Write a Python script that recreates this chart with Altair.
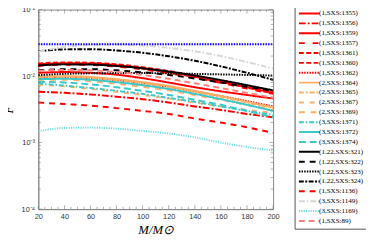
import altair as alt
import pandas as pd

M = [20, 40, 60, 80, 100, 120, 140, 160, 180, 200]

names = ["(1,SXS:1355)", "(1,SXS:1356)", "(1,SXS:1359)", "(1,SXS:1357)", "(1,SXS:1361)",
         "(1,SXS:1360)", "(1,SXS:1362)", "(2,SXS:1364)", "(2,SXS:1365)", "(2,SXS:1367)",
         "(2,SXS:1369)", "(3,SXS:1371)", "(3,SXS:1372)", "(3,SXS:1374)", "(1.22,SXS:321)",
         "(1.22,SXS:322)", "(1.22,SXS:323)", "(1.22,SXS:324)", "(1,SXS:1136)", "(3,SXS:1149)",
         "(3,SXS:1169)", "(1,SXS:89)"]

s1355 = [0.0112, 0.0115, 0.0112, 0.0105, 0.0093, 0.0080, 0.0068, 0.0059, 0.0052, 0.0046]
s1356 = [0.0058, 0.0056, 0.0053, 0.0049, 0.0045, 0.0040, 0.0035, 0.0031, 0.0027, 0.0024]
s1359 = [0.0150, 0.0156, 0.0155, 0.0146, 0.0132, 0.0115, 0.0098, 0.0082, 0.0068, 0.0056]
s1357 = [0.0142, 0.0148, 0.0147, 0.0139, 0.0126, 0.0110, 0.0094, 0.0079, 0.0065, 0.0054]
s1361 = [0.0155, 0.0160, 0.0159, 0.0150, 0.0136, 0.0119, 0.0101, 0.0085, 0.0070, 0.0058]
s1360 = [0.0146, 0.0152, 0.0152, 0.0144, 0.0130, 0.0113, 0.0097, 0.0081, 0.0067, 0.0055]
s1362 = [0.0095, 0.0096, 0.0093, 0.0087, 0.0079, 0.0069, 0.0059, 0.0050, 0.0042, 0.0035]
s1364 = [0.0098, 0.0100, 0.0097, 0.0090, 0.0081, 0.0071, 0.0060, 0.0050, 0.0041, 0.0034]
s1365 = [0.0094, 0.0096, 0.0093, 0.0086, 0.0077, 0.0067, 0.0057, 0.0048, 0.0040, 0.0033]
s1367 = [0.0075, 0.0070, 0.0064, 0.0058, 0.0052, 0.0046, 0.0040, 0.0035, 0.0031, 0.0028]
s1369 = [0.0088, 0.0088, 0.0084, 0.0077, 0.0069, 0.0061, 0.0052, 0.0044, 0.0037, 0.0031]
s1371 = [0.0077, 0.0072, 0.0066, 0.0060, 0.0054, 0.0047, 0.0041, 0.0035, 0.0030, 0.0026]
s1372 = [0.0090, 0.0091, 0.0088, 0.0081, 0.0073, 0.0064, 0.0054, 0.0045, 0.0037, 0.0030]
s1374 = [0.0082, 0.0080, 0.0075, 0.0068, 0.0060, 0.0052, 0.0044, 0.0037, 0.0030, 0.0024]
s321 = [0.0145, 0.0150, 0.0149, 0.0142, 0.0131, 0.0117, 0.0102, 0.0087, 0.0073, 0.0061]
s322 = [0.0122, 0.0127, 0.0127, 0.0122, 0.0114, 0.0104, 0.0092, 0.0080, 0.0069, 0.0060]
s323 = [0.0103, 0.0108, 0.0110, 0.0111, 0.0111, 0.0110, 0.0108, 0.0106, 0.0104, 0.0102]
s324 = [0.0236, 0.0252, 0.0253, 0.0243, 0.0224, 0.0199, 0.0170, 0.0140, 0.0112, 0.0088]
s1136 = [0.0040, 0.0038, 0.0036, 0.0033, 0.0030, 0.0027, 0.0023, 0.0020, 0.0017, 0.0014]
s1149 = [0.0232, 0.0275, 0.0295, 0.0298, 0.0288, 0.0266, 0.0236, 0.0200, 0.0163, 0.0130]
s1169 = [0.00148, 0.00166, 0.00168, 0.00162, 0.00150, 0.00137, 0.00120, 0.00100, 0.00086, 0.00076]
s89 = [0.0120, 0.0124, 0.0122, 0.0115, 0.0104, 0.0091, 0.0078, 0.0066, 0.0056, 0.0047]

blue_level = [0.0302, 0.0302]
blue_M = [20, 200]

series_values = [s1355, s1356, s1359, s1357, s1361, s1360, s1362, s1364, s1365, s1367,
                 s1369, s1371, s1372, s1374, s321, s322, s323, s324, s1136, s1149, s1169, s89]

colors = ["#ff0000", "#ff0000", "#ff0000", "#ff0000", "#ff0000", "#ff0000", "#ff0000",
          "#ffb066", "#ffb066", "#ffb066", "#ffb066", "#3cc8c8", "#3cc8c8", "#3cc8c8",
          "#000000", "#000000", "#000000", "#000000", "#ff0000", "#d8d8d8", "#70dede", "#ff8080"]
dashes = [[1, 0], [7, 2, 2, 2], [1, 0], [6, 8], [5, 2.5], [5, 2.5], [1.5, 1.2],
          [1, 0], [5, 2, 2, 2], [5, 6], [6, 6], [5, 2, 1.5, 2], [1, 0], [7, 4],
          [1, 0], [6, 5], [1.5, 1.2], [5, 1.5, 2, 1.5], [6, 5], [6, 2, 1.5, 2], [1.2, 1.2], [6, 4]]
widths = [2, 2, 2.5, 2.5, 2.5, 2.5, 2, 1.3, 1.3, 1.3, 1.3, 1.3, 1.3, 1.3,
          2, 2, 1.8, 2, 2, 1.2, 1.2, 1.3]

rows = []
for name, vals in zip(names, series_values):
    for m, v in zip(M, vals):
        rows.append({"M": m, "F": v, "series": name})
df = pd.DataFrame(rows)
blue_df = pd.DataFrame({"M": blue_M, "F": blue_level})

# axis tick positions (labels and minor ticks)
x_major = list(range(20, 201, 20))
x_minor = [v for v in range(20, 201, 5) if v % 20 != 0]
y_major = [1e-4, 1e-3, 1e-2, 1e-1]
y_minor = [k * 10 ** e for e in [-4, -3, -2] for k in range(2, 10)]
y_labels = ["10⁻⁴", "10⁻³", "10⁻²", "10⁻¹"]

x_scale = alt.Scale(domain=[20, 200], nice=False, zero=False)
y_scale = alt.Scale(type="log", domain=[1e-4, 1e-1], nice=False)

label_map = "{" + ",".join(f"'{e}':'{s}'" for e, s in zip([-4, -3, -2, -1], y_labels)) + "}"

x_axis = alt.Axis(values=x_major, title="M/M⊙", grid=False, ticks=False,
                  labelOverlap=False, labelFlush=False, labelPadding=4,
                  titleFont="Liberation Serif", titleFontStyle="italic",
                  titleFontSize=13, titleFontWeight="normal", titlePadding=3)
y_axis = alt.Axis(values=y_major, title="F̄", grid=False, ticks=False,
                  labelOverlap=False, labelFlush=False, labelPadding=4,
                  labelExpr=label_map + "[''+round(log(datum.value)/LN10)]",
                  titleFont="Liberation Serif", titleFontStyle="italic",
                  titleFontSize=12, titleFontWeight="normal", titlePadding=5)

lines = alt.Chart(df).mark_line(interpolate="monotone").encode(
    x=alt.X("M:Q", scale=x_scale, axis=x_axis),
    y=alt.Y("F:Q", scale=y_scale, axis=y_axis),
    color=alt.Color("series:N", scale=alt.Scale(domain=names, range=colors),
                    legend=alt.Legend(title=None)),
    strokeDash=alt.StrokeDash("series:N", scale=alt.Scale(domain=names, range=dashes),
                              legend=alt.Legend(title=None)),
    strokeWidth=alt.StrokeWidth("series:N", scale=alt.Scale(domain=names, range=widths),
                                legend=alt.Legend(title=None)),
    detail="series:N",
)

blue = alt.Chart(blue_df).mark_line(color="#0000ff", strokeDash=[1.5, 1.2], strokeWidth=2).encode(
    x=alt.X("M:Q", axis=x_axis), y=alt.Y("F:Q", axis=y_axis))

tick_color = "#777777"
xmaj_df = pd.DataFrame({"M": x_major})
xmin_df = pd.DataFrame({"M": x_minor})
ymaj_df = pd.DataFrame({"F": y_major})
ymin_df = pd.DataFrame({"F": y_minor})

H = 204
W = 240

def xticks(data, size, ypos):
    return alt.Chart(data).mark_tick(orient="vertical", size=size, thickness=0.8,
                                     color=tick_color).encode(x=alt.X("M:Q", axis=x_axis), y=alt.value(ypos))

def yticks(data, size, xpos):
    return alt.Chart(data).mark_tick(orient="horizontal", size=size, thickness=0.8,
                                     color=tick_color).encode(y=alt.Y("F:Q", axis=y_axis), x=alt.value(xpos))

ticks = [
    xticks(xmaj_df, 4, H - 2), xticks(xmin_df, 2.5, H - 1.25),
    xticks(xmaj_df, 4, 2), xticks(xmin_df, 2.5, 1.25),
    yticks(ymaj_df, 4, 2), yticks(ymin_df, 2.5, 1.25),
    yticks(ymaj_df, 4, W - 2), yticks(ymin_df, 2.5, W - 1.25),
]

chart = alt.layer(lines, blue, *ticks).properties(
    width=W, height=H, autosize="none",
    padding={"left": 31, "top": -1, "right": 95, "bottom": 31},
).configure_view(stroke="#888888", strokeWidth=1).configure_axis(
    domainColor="#888888", labelColor="#333333", labelOverlap=False,
    labelFont="Liberation Sans", labelFontSize=7.5, titleColor="#000000"
).configure_legend(
    orient="none", legendX=262, legendY=-3, strokeColor="#555555", fillColor="#ffffff",
    padding=3, symbolType="M-4,0H4", symbolSize=28, labelFont="Liberation Serif",
    labelFontSize=7.2, rowPadding=2.1, labelOffset=6, symbolOffset=8
)

chart.save("out.html", embed_options={"renderer": "svg", "actions": False})
